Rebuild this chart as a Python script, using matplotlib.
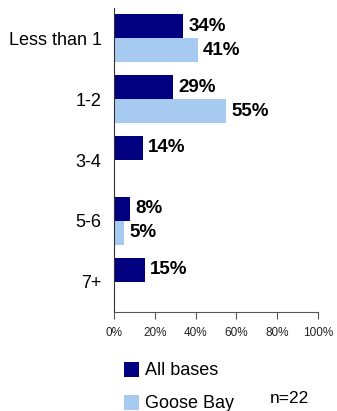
import matplotlib
matplotlib.use("Agg")
import matplotlib.pyplot as plt
from matplotlib.patches import Patch
import numpy as np

categories = ["Less than 1", "1-2", "3-4", "5-6", "7+"]
all_bases = [34, 29, 14, 8, 15]
goose_bay = [41, 55, None, 5, None]
series_names = ["All bases", "Goose Bay"]
xticks = [0, 20, 40, 60, 80, 100]
note = "n=22"

navy = "#000080"
light = "#A6CAF0"

plt.rcParams['font.family'] = ['Liberation Sans', 'DejaVu Sans']

fig = plt.figure(figsize=(3.37, 4.11), dpi=100)
ax = fig.add_axes([114/337, 1-312/411, (318-114)/337, (312-8)/411])

y = np.arange(len(categories))
h = 0.395
for i, v in enumerate(all_bases):
    if v is not None:
        ax.barh(y[i] - h/2, v, height=h, color=navy)
        ax.text(v + 2.4, y[i] - h/2, f"{v}%", va="center", ha="left",
                fontsize=13.5, fontweight="bold")
for i, v in enumerate(goose_bay):
    if v is not None:
        ax.barh(y[i] + h/2, v, height=h, color=light)
        ax.text(v + 2.4, y[i] + h/2, f"{v}%", va="center", ha="left",
                fontsize=13.5, fontweight="bold")

ax.set_xlim(0, 100)
ax.set_ylim(4.5, -0.5)
ax.set_yticks(y)
ax.set_yticklabels(categories, fontsize=13)
ax.tick_params(axis="y", length=0, pad=9)
ax.set_xticks(xticks)
ax.set_xticklabels([f"{t}%" for t in xticks], fontsize=8.5, color="#222222")
ax.tick_params(axis="x", length=5, width=0.8, color="#555555", pad=6, direction="out")
for s in ["top", "right"]:
    ax.spines[s].set_visible(False)
ax.spines["left"].set_color("#333333")
ax.spines["bottom"].set_color("#555555")
ax.spines["left"].set_linewidth(0.8)
ax.spines["bottom"].set_linewidth(0.8)

handles = [Patch(facecolor=navy), Patch(facecolor=light)]
leg = fig.legend(handles, series_names, loc="upper left",
                 bbox_to_anchor=(111/337, 1-349/411), frameon=False,
                 fontsize=13, handlelength=0.85, handleheight=0.9,
                 handletextpad=0.35, labelspacing=0.85, borderpad=0.2)
fig.text(270/337, 1-398/411, note, fontsize=12.5, va="center", ha="left")

fig.savefig("out.png", dpi=100)
